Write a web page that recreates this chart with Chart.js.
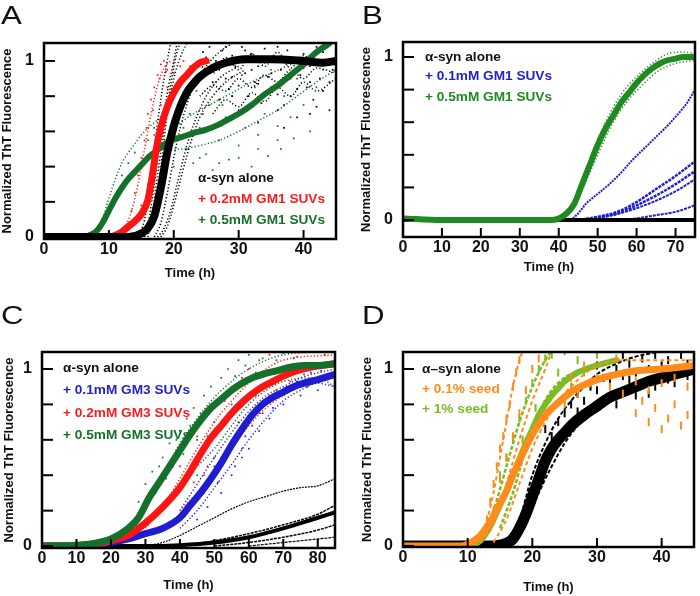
<!DOCTYPE html>
<html><head><meta charset="utf-8">
<script src="https://cdn.jsdelivr.net/npm/chart.js@4.4.1/dist/chart.umd.min.js"></script>
<style>
html,body{margin:0;padding:0;background:#fff;}
#wrap{position:relative;width:700px;height:596px;overflow:hidden;font-family:'Liberation Sans',Arial,sans-serif;}
canvas{position:absolute;}
.lbl{position:absolute;font-size:26px;line-height:26px;color:#111;transform:scaleX(1.2);transform-origin:left top;}
.lg{position:absolute;font-weight:bold;font-size:13px;line-height:16px;white-space:nowrap;transform:scaleX(1.05);transform-origin:left top;}
</style></head>
<body><div id="wrap">
<canvas id="cA" width="350" height="298" style="left:0;top:0"></canvas>
<canvas id="cB" width="350" height="298" style="left:350px;top:0"></canvas>
<canvas id="cC" width="350" height="298" style="left:0;top:298px"></canvas>
<canvas id="cD" width="350" height="298" style="left:350px;top:298px"></canvas>
<div class="lbl" style="left:1px;top:2px">A</div>
<div class="lbl" style="left:362px;top:2px">B</div>
<div class="lbl" style="left:1px;top:302px">C</div>
<div class="lbl" style="left:362px;top:302px">D</div>
<div class="lg" style="left:198px;top:170px;color:#111">α-syn alone</div>
<div class="lg" style="left:198px;top:191px;color:#ff1a1a">+ 0.2mM GM1 SUVs</div>
<div class="lg" style="left:198px;top:212px;color:#15702a">+ 0.5mM GM1 SUVs</div>
<div class="lg" style="left:425px;top:49px;color:#111">α-syn alone</div>
<div class="lg" style="left:425px;top:68px;color:#2222cc">+ 0.1mM GM1 SUVs</div>
<div class="lg" style="left:425px;top:89px;color:#1f8a22">+ 0.5mM GM1 SUVs</div>
<div class="lg" style="left:63px;top:360px;color:#111">α-syn alone</div>
<div class="lg" style="left:63px;top:382px;color:#2222cc">+ 0.1mM GM3 SUVs</div>
<div class="lg" style="left:63px;top:405px;color:#ff1a1a">+ 0.2mM GM3 SUVs</div>
<div class="lg" style="left:63px;top:427px;color:#15702a">+ 0.5mM GM3 SUVs</div>
<div class="lg" style="left:422px;top:361px;color:#111">α–syn alone</div>
<div class="lg" style="left:422px;top:381px;color:#ff8c1a">+ 0.1% seed</div>
<div class="lg" style="left:422px;top:401px;color:#7cbb24">+ 1% seed</div>
</div>
<script>
// ---------- tick values ----------
const yTicks = [0, 0.2, 0.4, 0.6, 0.8, 1];
const yTickLabels = ['0', '', '', '', '', '1'];
const xTicksA = [0, 10, 20, 30, 40];
const xTicksB = [0, 10, 20, 30, 40, 50, 60, 70];
const xTicksC = [0, 10, 20, 30, 40, 50, 60, 70, 80];
const xTicksD = [0, 10, 20, 30, 40];

// ---------- Panel A (time h, normalized ThT) ----------
const A_alone = [[0,0],[10,0],[13,0],[15,0.02],[16,0.05],[17,0.12],[18,0.28],[19,0.48],[20,0.63],[21,0.74],[22,0.82],[23,0.87],[24,0.91],[26,0.96],[28,0.99],[31,1.01],[35,1.01],[40,1.0],[43,0.99],[45,1.0]];
const A_gm1_02 = [[0,0],[10,0],[11,0.01],[12,0.03],[13,0.06],[14,0.09],[15,0.13],[16,0.21],[16.7,0.35],[17.3,0.5],[18,0.62],[19,0.74],[20,0.82],[21,0.88],[22,0.92],[23,0.96],[24,0.99],[25,1.0]];
const A_gm1_05 = [[0,0],[6,0],[7,0.01],[8,0.03],[9,0.08],[10,0.15],[11,0.22],[12,0.28],[13,0.33],[14,0.37],[15,0.41],[16,0.45],[17,0.48],[18,0.51],[19,0.54],[20,0.555],[21.4,0.57],[23,0.59],[25,0.61],[27,0.64],[29,0.68],[30,0.7],[32,0.75],[34,0.81],[36,0.86],[38,0.92],[40,0.98],[42,1.05],[44,1.1]];
const A_alone_rep1 = [[14.5,0],[15.5,0.1],[16.5,0.35],[17.5,0.65],[18.5,0.9],[19.5,1.1]];
const A_alone_rep2 = [[15.5,0],[16.5,0.1],[17.5,0.35],[18.5,0.62],[19.5,0.86],[20.5,1.05],[21,1.1]];
const A_alone_rep3 = [[17,0],[18,0.08],[19,0.25],[20,0.45],[21,0.62],[22,0.75],[23,0.85],[25,0.97],[27,1.05],[29,1.1]];
const A_alone_rep4 = [[17.5,0],[18.5,0.05],[19.5,0.15],[20.5,0.3],[21.5,0.45],[22.5,0.58],[23.5,0.68],[25,0.8],[27,0.9],[30,0.97]];
const A_alone_rep5 = [[16,0],[17,0.15],[18,0.4],[19,0.7],[20,0.9],[21,1.02],[22,1.1]];
const A_alone_rep6 = [[22,0.9],[24,0.97],[26,0.93],[28,1.02],[30,0.95],[32,1.04],[34,0.97],[36,1.05],[38,0.96],[40,1.03],[42,0.98],[45,1.02]];
const A_alone_rep7 = [[24,0.8],[26,0.86],[28,0.83],[30,0.9],[32,0.85],[34,0.92],[36,0.88],[38,0.95],[40,0.9],[42,0.96],[45,0.93]];
const A_alone_rep8 = [[26,0.7],[28,0.78],[30,0.74],[32,0.82],[34,0.77],[36,0.85],[38,0.8],[40,0.88],[42,0.83],[45,0.9]];
const A_alone_rep9 = [[15,0],[16,0.08],[17,0.3],[18,0.58],[19,0.82],[20,1.0],[20.5,1.1]];
const A_alone_rep10 = [[18,0],[19,0.06],[20,0.18],[21,0.32],[22,0.46],[23,0.58],[24,0.68],[26,0.8],[28,0.88],[31,0.95]];
const A_alone_scatter = [[24,0.98],[24.5,1.05],[25,0.92],[25.5,1.08],[26,0.88],[26.5,1.0],[27,0.95],[27.5,1.06],[28,0.9],[28.5,0.84],[29,1.03],[29.5,0.97],[30,0.86],[30.5,1.08],[31,0.93],[31.5,0.8],[32,1.04],[32.5,0.88],[33,0.97],[33.5,0.76],[34,1.07],[34.5,0.91],[35,0.85],[35.5,1.02],[36,0.72],[36.5,0.95],[37,0.88],[37.5,1.06],[38,0.8],[38.5,0.99],[39,0.68],[39.5,0.92],[40,1.04],[40.5,0.85],[41,0.97],[41.5,0.78],[42,1.08],[42.5,0.9],[43,0.83],[43.5,1.0],[44,0.88],[44.5,0.95],[45,0.8],[33,0.65],[37,0.62],[41,0.7],[44,0.72],[27,0.78],[30,0.72],[25,1.02],[26,0.96],[28,1.08],[29,0.8],[31,1.06],[32,0.95],[34,0.82],[35,0.93],[36,1.08],[37,0.75],[38,1.02],[39,0.84],[40,0.96],[41,0.88],[42,0.74],[43,1.05],[44,0.98],[45,0.9],[34,0.99],[38,0.9],[42,1.0],[29,0.91],[33,0.87],[36,0.81]];
const A_gm1_02_rep1 = [[12.5,0.05],[13.5,0.15],[14.5,0.3],[15.5,0.5],[16.5,0.7],[17.5,0.86],[18.5,0.96],[19.5,1.0]];
const A_gm1_02_scatter = [[14,0.25],[14.5,0.35],[15,0.45],[15.5,0.55],[16,0.7],[16.5,0.78],[17,0.85],[17.5,0.92],[18,0.98],[18.5,1.0],[19,0.95],[20,0.99],[15,0.18],[16,0.3],[17,0.58],[18,0.75],[19,0.85],[20,0.93],[21,0.97],[13.5,0.15],[15.8,0.62],[16.8,0.72],[17.8,0.9],[18.8,0.94],[21.5,1.0],[22.5,0.97]];
const A_gm1_05_rep1 = [[8,0.02],[9,0.1],[10,0.22],[11,0.33],[12,0.42],[13,0.48],[14,0.53],[15,0.58],[17,0.65],[19,0.7]];
const A_gm1_05_rep2 = [[18,0.5],[21,0.5],[24,0.52],[27,0.55],[30,0.6],[33,0.66],[36,0.72],[39,0.8],[42,0.88],[45,0.95]];
const A_gm1_05_rep3 = [[20,0.62],[23,0.7],[26,0.76],[29,0.82],[32,0.88],[35,0.93],[38,0.98],[41,1.03],[44,1.08]];
const A_gm1_05_scatter = [[16,0.55],[17,0.62],[18,0.68],[18.5,0.45],[19,0.72],[20,0.4],[20.5,0.66],[21,0.78],[22,0.5],[22.5,0.7],[23,0.42],[23.5,0.83],[24,0.62],[25,0.47],[25.5,0.75],[26,0.38],[26.5,0.88],[27,0.55],[28,0.68],[28.5,0.44],[29,0.8],[30,0.52],[30.5,0.92],[31,0.62],[32,0.4],[32.5,0.85],[33,0.58],[34,0.7],[34.5,0.46],[35,0.95],[36,0.63],[36.5,0.5],[37,0.8],[38,0.68],[38.5,0.56],[39,0.9],[40,0.75],[41,0.6],[42,0.85],[43,0.95],[24,0.45],[27,0.42],[30,0.45],[33,0.5],[36,0.55],[21.5,0.62],[24.5,0.7],[27.5,0.75],[31.5,0.8],[12,0.35],[13,0.42],[14,0.48]];

// ---------- Panel B ----------
const B_alone = [[0,0],[75,0]];
const B_gm1_05 = [[0,0.01],[10,0],[20,0],[30,0],[38,0],[40,0.01],[42,0.04],[44,0.1],[46,0.22],[48,0.34],[50,0.46],[52,0.56],[54,0.64],[56,0.72],[58,0.78],[60,0.84],[62,0.89],[64,0.93],[66,0.96],[68,0.98],[70,0.99],[72,1.0],[75,1.0]];
const B_gm1_05_rep1 = [[48,0.38],[52,0.6],[56,0.77],[60,0.88],[64,0.96],[68,1.02],[72,1.03],[75,1.02]];
const B_gm1_05_rep2 = [[46,0.18],[50,0.4],[54,0.6],[58,0.74],[62,0.84],[66,0.92],[70,0.96],[75,0.98]];
const B_gm1_01_rep1 = [[43,0],[45,0.04],[47,0.1],[50,0.16],[53,0.22],[56,0.29],[59,0.37],[62,0.44],[65,0.51],[68,0.58],[71,0.66],[73,0.72],[75,0.8]];
const B_gm1_01_rep2 = [[45,0],[50,0.02],[55,0.05],[60,0.11],[65,0.19],[70,0.27],[75,0.36]];
const B_gm1_01_rep3 = [[46,0],[50,0.015],[55,0.04],[60,0.09],[65,0.15],[70,0.22],[75,0.3]];
const B_gm1_01_rep4 = [[47,0],[52,0.02],[57,0.05],[62,0.09],[67,0.14],[71,0.19],[75,0.25]];
const B_gm1_01_rep5 = [[55,0],[60,0.01],[65,0.03],[70,0.05],[75,0.09]];

// ---------- Panel C ----------
const C_alone_main = [[0,0],[30,0],[40,0.005],[50,0.02],[60,0.05],[70,0.1],[80,0.16],[85,0.19]];
const C_alone_rep1 = [[30,0],[35,0.02],[40,0.06],[45,0.11],[50,0.16],[55,0.21],[60,0.25],[65,0.28],[70,0.31],[75,0.33],[80,0.34],[85,0.38]];
const C_alone_rep2 = [[40,0],[50,0.03],[60,0.07],[70,0.12],[80,0.18],[85,0.23]];
const C_alone_rep3 = [[50,0],[60,0.02],[70,0.05],[80,0.09],[85,0.12]];
const C_alone_rep4 = [[60,0],[70,0.02],[80,0.04],[85,0.05]];
const C_gm3_01 = [[0,0],[15,0.005],[20,0.02],[25,0.04],[30,0.07],[35,0.1],[40,0.16],[43,0.23],[46,0.3],[49,0.38],[52,0.47],[55,0.57],[58,0.66],[61,0.74],[64,0.8],[67,0.84],[70,0.87],[73,0.9],[76,0.92],[80,0.94],[85,0.97]];
const C_gm3_02 = [[0,0],[10,0],[15,0.01],[20,0.03],[25,0.06],[30,0.13],[35,0.22],[40,0.33],[43,0.42],[46,0.52],[49,0.61],[52,0.68],[55,0.75],[58,0.81],[61,0.86],[64,0.9],[67,0.93],[70,0.96],[74,0.99],[78,1.01],[85,1.03]];
const C_gm3_05 = [[0,0],[10,0.005],[15,0.015],[20,0.04],[25,0.1],[28,0.16],[31,0.27],[34,0.36],[37,0.45],[40,0.54],[43,0.63],[46,0.71],[49,0.78],[52,0.83],[55,0.88],[58,0.92],[61,0.95],[64,0.97],[68,0.99],[72,1.01],[76,1.02],[80,1.02],[85,1.03]];
const C_gm3_05_rep1 = [[25,0.05],[30,0.2],[35,0.4],[40,0.58],[45,0.72],[50,0.84],[55,0.93],[60,1.0],[65,1.05],[70,1.08],[85,1.1]];
const C_gm3_05_rep2 = [[35,0.2],[40,0.35],[45,0.45],[50,0.55],[55,0.68],[60,0.8],[65,0.88],[70,0.93],[80,0.95],[85,0.9]];
const C_gm3_02_rep1 = [[30,0.1],[35,0.22],[40,0.38],[45,0.55],[50,0.7],[55,0.82],[60,0.92],[65,1.0],[70,1.05],[85,1.08]];
const C_gm3_02_rep2 = [[40,0.2],[45,0.3],[50,0.42],[55,0.55],[60,0.68],[65,0.78],[70,0.85],[75,0.9],[85,0.95]];
const C_gm3_01_rep1 = [[40,0.1],[45,0.2],[50,0.33],[55,0.46],[60,0.6],[65,0.72],[70,0.82],[75,0.88],[80,0.92],[85,0.9]];
const C_gm3_01_rep2 = [[40,0.2],[45,0.35],[50,0.5],[55,0.64],[60,0.76],[65,0.85],[70,0.9],[75,0.95],[85,1.0]];
const C_gm3_05_scatter = [[28,0.25],[30,0.35],[32,0.42],[33,0.3],[35,0.5],[36,0.38],[37,0.58],[38,0.45],[40,0.65],[41,0.52],[42,0.72],[44,0.78],[45,0.6],[47,0.85],[49,0.9],[50,0.7],[52,0.95],[54,1.0],[55,0.8],[57,1.05],[60,1.08],[62,0.98],[65,1.1],[68,1.05],[70,1.09],[73,1.06],[76,1.1],[79,1.03],[82,1.08],[85,1.05],[45,0.4],[50,0.5],[55,0.6],[58,0.55],[60,0.7],[63,0.75],[67,0.85],[72,0.9],[78,0.93],[83,0.95],[31,0.3],[34,0.45],[39,0.6],[43,0.68],[46,0.75],[48,0.62],[53,0.72],[56,0.96],[59,1.02],[64,1.06]];
const C_gm3_02_scatter = [[40,0.45],[45,0.62],[50,0.78],[55,0.9],[60,1.0],[63,1.05],[66,1.08],[70,1.1],[74,1.07],[78,1.1],[82,1.08],[85,1.1],[48,0.45],[52,0.5],[56,0.6],[60,0.7],[64,0.8],[68,0.88],[72,0.93],[76,0.97],[44,0.36],[47,0.4],[53,0.82],[58,0.95],[62,0.78],[66,0.85],[71,1.02],[80,1.02]];
const C_gm3_01_scatter = [[45,0.15],[48,0.22],[50,0.45],[52,0.3],[55,0.4],[57,0.7],[58,0.5],[60,0.55],[62,0.85],[63,0.65],[65,0.9],[66,0.72],[68,0.95],[70,0.8],[72,1.0],[75,0.85],[78,0.98],[80,0.88],[82,0.95],[85,0.92],[47,0.3],[51,0.36],[54,0.52],[56,0.45],[59,0.62],[61,0.68],[64,0.75],[67,0.78],[71,0.9],[74,0.93],[77,0.9],[81,0.99]];

// ---------- Panel D ----------
const D_alone = [[0,0],[14,0],[15,0.005],[16,0.015],[17,0.04],[18,0.1],[19,0.18],[20,0.28],[21,0.38],[22,0.48],[23,0.55],[24,0.6],[25,0.64],[26,0.68],[28,0.74],[30,0.79],[32,0.84],[34,0.87],[36,0.9],[38,0.93],[40,0.95],[42,0.97],[45,1.0]];
const D_alone_rep1 = [[17,0.02],[19,0.12],[21,0.3],[23,0.45],[25,0.58],[27,0.68],[29,0.76],[32,0.84],[35,0.9]];
const D_alone_rep2 = [[16,0.03],[18,0.15],[20,0.4],[22,0.58],[24,0.72],[26,0.82],[28,0.9],[30,0.97],[33,1.03],[36,1.07],[40,1.1]];
const D_alone_noise = [[25,0.75],[26,0.8],[27,0.86],[28,0.82],[29,0.9],[30,0.88],[31,0.95],[32,0.92],[33,1.0],[34,0.96],[35,1.03],[36,0.98],[37,1.06],[38,1.0],[39,1.08],[40,1.02],[41,1.05],[42,0.98],[43,1.08],[44,1.03],[45,1.06],[33,0.8],[36,0.85],[39,0.9],[42,0.92],[24,0.7],[27,0.76],[31,0.83],[35,0.94],[38,0.86],[41,0.94],[44,0.96],[30,1.02],[34,1.08],[22,0.66],[23,0.62]];
const D_seed01 = [[0,0],[9,0],[10,0.01],[11,0.03],[12,0.06],[13,0.11],[14,0.17],[15,0.24],[16,0.31],[17,0.4],[18,0.48],[19,0.56],[20,0.63],[21,0.69],[22,0.74],[24,0.81],[26,0.87],[28,0.91],[30,0.94],[33,0.97],[36,0.99],[40,1.0],[45,1.02]];
const D_seed01_rep1 = [[11,0],[12,0.05],[13,0.15],[14,0.3],[15,0.5],[16,0.7],[17,0.9],[18,1.05],[18.5,1.1]];
const D_seed01_rep2 = [[12,0.02],[14,0.12],[16,0.35],[18,0.6],[20,0.82],[22,1.0],[23,1.1]];
const D_seed01_rep3 = [[14,0.02],[16,0.15],[18,0.35],[20,0.55],[22,0.7],[24,0.82],[26,0.9],[28,0.97],[30,1.02],[35,1.05],[40,1.05],[45,1.05]];
const D_seed01_noise = [[13,0.15],[13.5,0.25],[14,0.35],[14.5,0.45],[15,0.55],[15.5,0.62],[16,0.72],[16.5,0.8],[17,0.9],[17.5,0.98],[18,1.05],[14,0.2],[15,0.38],[16,0.5],[17,0.62],[18,0.75],[19,0.88],[20,1.0],[21,1.06],[36,0.75],[37,0.82],[38,0.7],[39,0.78],[40,0.66],[41,0.72],[42,0.8],[43,0.68],[44,0.74],[45,0.85],[38,0.88],[40,0.92],[42,0.95],[44,0.9],[36,0.93],[34,0.86],[32,0.9],[30,0.95],[26,0.95],[28,1.02],[33,1.06],[25,0.8],[27,0.86]];
const D_seed1 = [[0,0],[10,0],[12,0.03],[13,0.08],[14,0.15],[15,0.23],[16,0.31],[17,0.4],[18,0.49],[19,0.58],[20,0.66],[21,0.74],[22,0.8],[23,0.85],[24,0.89],[25,0.93],[27,0.98],[30,1.02],[33,1.05]];
const D_seed1_rep1 = [[12,0.03],[14,0.2],[16,0.45],[18,0.7],[20,0.9],[22,1.05],[23,1.1]];
const D_seed1_rep2 = [[15,0.1],[17,0.3],[19,0.55],[21,0.75],[23,0.88],[25,0.95],[28,1.0]];
const D_seed1_noise = [[16,0.5],[17,0.6],[18,0.72],[19,0.82],[20,0.92],[21,1.0],[22,1.06],[23,1.08],[25,1.1],[27,1.05],[28,0.98],[30,1.08],[15,0.4],[16.5,0.38],[18.5,0.6],[20.5,0.78],[24,0.98],[26,0.9],[29,0.92]];

// ---------- helpers ----------
const FONT = "'Liberation Sans', Arial, sans-serif";
const pts = a => a.map(p => ({x: p[0], y: p[1]}));
function band(d, c, w) {
  return {data: pts(d), borderColor: c, backgroundColor: c, borderWidth: w, showLine: true, pointRadius: 0,
          cubicInterpolationMode: 'monotone', borderCapStyle: 'round', borderJoinStyle: 'round'};
}
function dots(d, c, w, dash) {
  return {data: pts(d), borderColor: c, backgroundColor: c, borderWidth: w, showLine: true, pointRadius: 0,
          cubicInterpolationMode: 'monotone', borderDash: dash || [1.2, 2.2]};
}
function cloud(d, c, r) {
  return {data: pts(d), borderColor: c, backgroundColor: c, borderWidth: 0, showLine: false,
          pointRadius: r || 1.1, pointStyle: 'rect'};
}
function ticksCloud(d, c) {
  return {data: pts(d), borderColor: c, backgroundColor: c, borderWidth: 2, showLine: false,
          pointRadius: 4, pointStyle: 'line', rotation: 90};
}

const frame = {
  id: 'frame',
  afterDatasetsDraw(chart) {
    const {ctx, chartArea: a, scales: {x, y}} = chart;
    ctx.save();
    ctx.strokeStyle = '#000';
    ctx.lineWidth = 2;
    x.ticks.forEach(t => {
      if (t.value <= x.min || t.value >= x.max) return;
      const px = x.getPixelForValue(t.value);
      ctx.beginPath(); ctx.moveTo(px, a.bottom); ctx.lineTo(px, a.bottom - 9); ctx.stroke();
    });
    y.ticks.forEach(t => {
      const py = y.getPixelForValue(t.value);
      ctx.beginPath(); ctx.moveTo(a.left, py); ctx.lineTo(a.left + 11, py); ctx.stroke();
    });
    ctx.lineWidth = 2.5;
    ctx.strokeRect(a.left, a.top, a.right - a.left, a.bottom - a.top);
    ctx.restore();
  }
};

function make(id, datasets, cfg) {
  datasets.forEach((d, i) => { d.order = datasets.length - i; });
  return new Chart(document.getElementById(id), {
    type: 'scatter',
    data: {datasets},
    plugins: [frame],
    options: {
      responsive: false, animation: false, devicePixelRatio: 1,
      layout: {padding: cfg.pad},
      plugins: {legend: {display: false}, tooltip: {enabled: false}},
      scales: {
        x: {
          type: 'linear', min: cfg.xmin, max: cfg.xmax,
          grid: {display: false, drawTicks: false}, border: {display: false},
          ticks: {color: '#111', font: {family: FONT, size: 16, weight: 'bold'}, padding: 1, maxRotation: 0, autoSkip: false,
                  callback: v => String(v)},
          afterBuildTicks: s => { s.ticks = cfg.xt.map(v => ({value: v})); },
          afterFit: s => { s.height = cfg.xh; },
          title: {display: true, text: 'Time (h)', color: '#111', font: {family: FONT, size: 13, weight: 'bold'}, padding: 0}
        },
        y: {
          type: 'linear', min: cfg.ymin, max: cfg.ymax,
          grid: {display: false, drawTicks: false}, border: {display: false},
          ticks: {color: '#111', font: {family: FONT, size: 16, weight: 'bold'}, padding: 10, autoSkip: false,
                  callback: (v, i) => yTickLabels[i]},
          afterBuildTicks: s => { s.ticks = yTicks.map(v => ({value: v})); },
          afterFit: s => { s.width = cfg.yw; },
          title: {display: true, text: 'Normalized ThT Fluorescence', color: '#111', font: {family: FONT, size: 13, weight: 'bold'}, padding: 0}
        }
      }
    }
  });
}

const BLK = '#000', RED = '#ff1414', DGR = '#15702a', BLU = '#1e1ed0', BGR = '#1f8a22', ORA = '#ff8c1a', LGR = '#7cbb24';

make('cA', [
  cloud(A_gm1_05_scatter, DGR, 1.2),
  dots(A_gm1_05_rep1, DGR, 1.5), dots(A_gm1_05_rep2, DGR, 1.5), dots(A_gm1_05_rep3, DGR, 1.5),
  cloud(A_alone_scatter, BLK, 1.2),
  dots(A_alone_rep6, BLK, 1.5), dots(A_alone_rep7, BLK, 1.5), dots(A_alone_rep8, BLK, 1.5),
  dots(A_alone_rep1, BLK, 1.5), dots(A_alone_rep2, BLK, 1.5), dots(A_alone_rep3, BLK, 1.5),
  dots(A_alone_rep4, BLK, 1.5), dots(A_alone_rep5, BLK, 1.5), dots(A_alone_rep9, BLK, 1.5), dots(A_alone_rep10, BLK, 1.5),
  cloud(A_gm1_02_scatter, RED, 1.2), dots(A_gm1_02_rep1, RED, 1.5),
  band(A_gm1_05, DGR, 6),
  band(A_gm1_02, RED, 7),
  band(A_alone, BLK, 8)
], {pad: {left: 0, top: 43, right: 14, bottom: 17}, yw: 44, xh: 42, xmin: 0, xmax: 45, ymin: -0.011, ymax: 1.102, xt: xTicksA});

make('cB', [
  dots(B_gm1_01_rep1, BLU, 2, [2, 1]), dots(B_gm1_01_rep2, BLU, 2.5, [3, 1]), dots(B_gm1_01_rep3, BLU, 2.5, [3, 1]),
  dots(B_gm1_01_rep4, BLU, 2, [3, 1]), dots(B_gm1_01_rep5, BLU, 2, [3, 1]),
  dots(B_gm1_05_rep1, BGR, 1.5), dots(B_gm1_05_rep2, BGR, 1.5),
  band(B_alone, BLK, 4),
  band(B_gm1_05, BGR, 6)
], {pad: {left: 9, top: 42, right: 5, bottom: 23}, yw: 44, xh: 38, xmin: 0, xmax: 75, ymin: -0.104, ymax: 1.092, xt: xTicksB});

make('cC', [
  dots(C_alone_rep1, BLK, 1.2, [2, 1]), dots(C_alone_rep2, BLK, 1.5, [3, 1]), dots(C_alone_rep3, BLK, 1.5, [3, 1]), dots(C_alone_rep4, BLK, 1.2, [3, 1]),
  band(C_alone_main, BLK, 4),
  cloud(C_gm3_05_scatter, DGR, 1.2), cloud(C_gm3_02_scatter, RED, 1.2), cloud(C_gm3_01_scatter, BLU, 1.2),
  dots(C_gm3_05_rep1, DGR, 1.5), dots(C_gm3_05_rep2, DGR, 1.5),
  dots(C_gm3_01_rep1, BLU, 1.5), dots(C_gm3_01_rep2, BLU, 1.5),
  dots(C_gm3_02_rep1, RED, 1.5), dots(C_gm3_02_rep2, RED, 1.5),
  band(C_gm3_01, BLU, 7),
  band(C_gm3_02, RED, 7),
  band(C_gm3_05, DGR, 7)
], {pad: {left: 2, top: 54, right: 15, bottom: 3}, yw: 40, xh: 45, xmin: 0, xmax: 85, ymin: -0.011, ymax: 1.096, xt: xTicksC});

make('cD', [
  ticksCloud(D_alone_noise, BLK),
  band(D_alone, BLK, 11),
  dots(D_alone_rep1, BLK, 2, [4, 2]), dots(D_alone_rep2, BLK, 2, [4, 2]),
  ticksCloud(D_seed1_noise, LGR),
  dots(D_seed1_rep1, LGR, 2.5, [4, 2]), dots(D_seed1_rep2, LGR, 2.5, [4, 2]),
  band(D_seed1, LGR, 6),
  ticksCloud(D_seed01_noise, ORA),
  dots(D_seed01_rep1, ORA, 2, [4, 3]), dots(D_seed01_rep2, ORA, 2, [4, 3]), dots(D_seed01_rep3, ORA, 2, [4, 3]),
  band(D_seed01, ORA, 7)
], {pad: {left: 10, top: 54, right: 2, bottom: 1}, yw: 43, xh: 48, xmin: 0, xmax: 45, ymin: -0.006, ymax: 1.096, xt: xTicksD});
</script>
</body></html>
